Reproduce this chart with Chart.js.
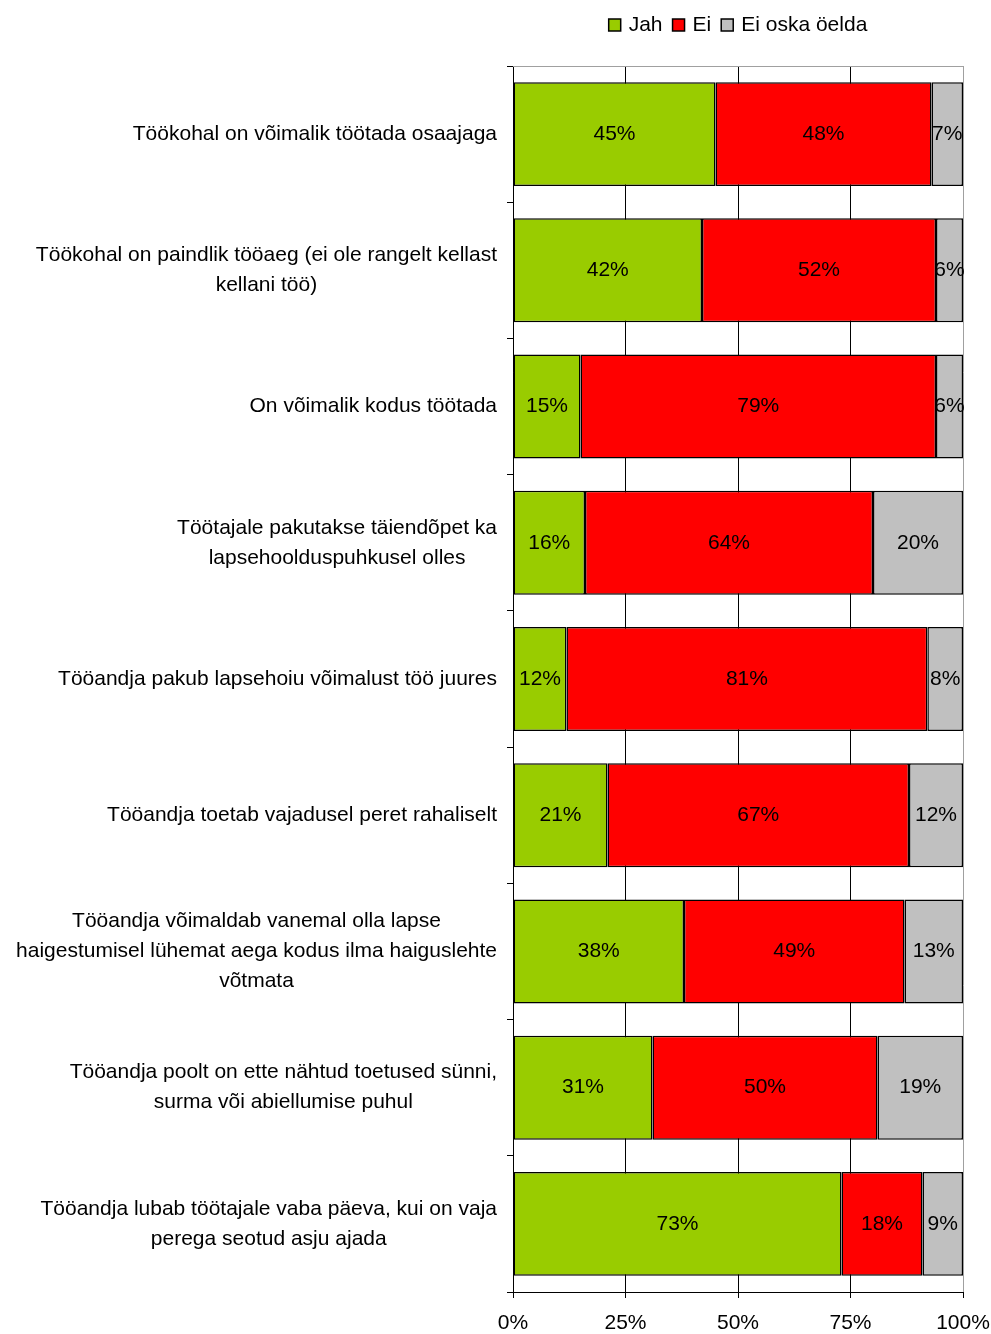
<!DOCTYPE html>
<html>
<head>
<meta charset="utf-8">
<script src="https://cdn.jsdelivr.net/npm/chart.js@4"></script>
<style>
  html, body { margin: 0; padding: 0; background: #fff; }
  #wrap { width: 991px; height: 1334px; position: relative; }
</style>
</head>
<body>
<div id="wrap"><canvas id="surveyChart"></canvas></div>
<script>
const categories = [
    ['Töökohal on võimalik töötada osaajaga'],
    ['Töökohal on paindlik tööaeg (ei ole rangelt kellast', 'kellani töö)'],
    ['On võimalik kodus töötada'],
    ['Töötajale pakutakse täiendõpet ka', 'lapsehoolduspuhkusel olles'],
    ['Tööandja pakub lapsehoiu võimalust töö juures'],
    ['Tööandja toetab vajadusel peret rahaliselt'],
    ['Tööandja võimaldab vanemal olla lapse', 'haigestumisel lühemat aega kodus ilma haiguslehte', 'võtmata'],
    ['Tööandja poolt on ette nähtud toetused sünni,', 'surma või abiellumise puhul'],
    ['Tööandja lubab töötajale vaba päeva, kui on vaja', 'perega seotud asju ajada']
];
const jah = [45, 42, 15, 16, 12, 21, 38, 31, 73];
const ei = [48, 52, 79, 64, 81, 67, 49, 50, 18];
const eiOska = [7, 6, 6, 20, 8, 12, 13, 19, 9];
const seriesNames = ['Jah', 'Ei', 'Ei oska öelda'];
const seriesColors = ['#99cc00', '#ff0000', '#c0c0c0'];
const xTicks = [0, 25, 50, 75, 100];

const FONT = "'Liberation Sans', Arial, sans-serif";

// 100% stacked: scale each row to its own total
const totals = jah.map((v, i) => v + ei[i] + eiOska[i]);
const share = arr => arr.map((v, i) => v / totals[i] * 100);
const raw = [jah, ei, eiOska];

const datasets = raw.map((arr, k) => ({
    label: seriesNames[k],
    data: share(arr),
    backgroundColor: seriesColors[k],
    borderColor: '#000',
    borderWidth: 1.5,
    borderSkipped: false,
    barPercentage: 0.763,
    categoryPercentage: 1
}));

const valueLabels = {
    id: 'valueLabels',
    afterDatasetsDraw(chart) {
        const ctx = chart.ctx;
        ctx.save();
        ctx.font = '21px ' + FONT;
        ctx.fillStyle = '#000';
        ctx.textAlign = 'center';
        ctx.textBaseline = 'middle';
        chart.data.datasets.forEach((ds, k) => {
            chart.getDatasetMeta(k).data.forEach((bar, i) => {
                const cx = (bar.x + bar.base) / 2;
                ctx.fillText(raw[k][i] + '%', cx, bar.y);
            });
        });
        ctx.restore();
    }
};

const categoryLabels = {
    id: 'categoryLabels',
    afterDraw(chart) {
        const ctx = chart.ctx;
        const yScale = chart.scales.y;
        const rightEdge = chart.chartArea.left - 16;
        ctx.save();
        ctx.font = '21px ' + FONT;
        ctx.fillStyle = '#000';
        ctx.textAlign = 'center';
        ctx.textBaseline = 'middle';
        categories.forEach((lines, i) => {
            const y = yScale.getPixelForValue(i);
            const maxW = Math.max(...lines.map(l => ctx.measureText(l).width));
            const cx = rightEdge - maxW / 2;
            const startY = y - (lines.length - 1) * 15;
            lines.forEach((l, j) => ctx.fillText(l, cx, startY + j * 30));
        });
        ctx.restore();
    }
};

const topLegend = {
    id: 'topLegend',
    afterDraw(chart) {
        const ctx = chart.ctx;
        const area = chart.chartArea;
        ctx.save();
        ctx.font = '21px ' + FONT;
        ctx.textBaseline = 'middle';
        ctx.textAlign = 'left';
        const box = 12, gapText = 8, gapItem = 10;
        const widths = seriesNames.map(n => ctx.measureText(n).width);
        let total = 0;
        widths.forEach((w, k) => { total += box + gapText + w + (k < widths.length - 1 ? gapItem : 0); });
        let x = (area.left + area.right) / 2 - total / 2;
        const y = 25;
        seriesNames.forEach((n, k) => {
            ctx.fillStyle = seriesColors[k];
            ctx.fillRect(x, y - box / 2, box, box);
            ctx.strokeStyle = '#000';
            ctx.lineWidth = 1.5;
            ctx.strokeRect(x, y - box / 2, box, box);
            x += box + gapText;
            ctx.fillStyle = '#000';
            ctx.fillText(n, x, y);
            x += widths[k] + gapItem;
        });
        // light frame on top of plot area
        ctx.strokeStyle = '#a0a0a0';
        ctx.lineWidth = 1;
        ctx.beginPath();
        ctx.moveTo(area.left, area.top + 0.5);
        ctx.lineTo(area.right, area.top + 0.5);
        ctx.stroke();
        ctx.restore();
    }
};

new Chart(document.getElementById('surveyChart').getContext('2d'), {
    type: 'bar',
    data: {
        labels: categories.map(l => l.join(' ')),
        datasets: datasets
    },
    options: {
        indexAxis: 'y',
        responsive: true,
        maintainAspectRatio: false,
        animation: false,
        layout: {
            padding: { top: 66, right: 28, left: 0, bottom: 0 }
        },
        plugins: {
            legend: { display: false },
            tooltip: { enabled: false }
        },
        scales: {
            x: {
                stacked: true,
                min: 0,
                max: 100,
                afterBuildTicks: scale => {
                    scale.ticks = xTicks.map(v => ({ value: v }));
                },
                afterFit: scale => {
                    scale.height = 42;
                    scale.paddingRight = 0;
                    scale.paddingLeft = 0;
                },
                grid: {
                    color: c => (c.tick && c.tick.value === 100) ? '#a0a0a0' : '#000',
                    tickColor: '#000',
                    tickLength: 6,
                    lineWidth: 1
                },
                border: { display: true, color: '#000', width: 1 },
                ticks: {
                    color: '#000',
                    padding: 13,
                    font: { family: FONT, size: 21 },
                    callback: v => v + '%'
                }
            },
            y: {
                stacked: true,
                afterFit: scale => { scale.width = 513; },
                grid: {
                    drawOnChartArea: false,
                    drawTicks: true,
                    tickLength: 6,
                    tickColor: '#000',
                    offset: true
                },
                border: { display: true, color: '#000', width: 1 },
                ticks: { display: false }
            }
        }
    },
    plugins: [valueLabels, categoryLabels, topLegend]
});
</script>
</body>
</html>
